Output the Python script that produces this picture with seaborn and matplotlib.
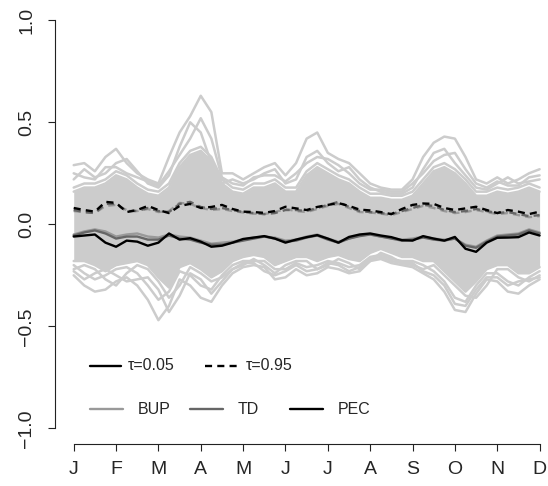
import numpy as np
import pandas as pd
import matplotlib
matplotlib.use("Agg")
import matplotlib.pyplot as plt
import seaborn as sns
from matplotlib.lines import Line2D

# month grid (quarter-month steps, J..D)
months = np.arange(1, 12.01, 0.25)
month_labels = ["J", "F", "M", "A", "M", "J", "J", "A", "S", "O", "N", "D"]

# grey bundle of individual curves
core_top = [0.16, 0.18, 0.18, 0.20, 0.24, 0.22, 0.18, 0.15, 0.14, 0.18, 0.28, 0.34, 0.36, 0.31, 0.20,
            0.16, 0.15, 0.18, 0.18, 0.20, 0.16, 0.16, 0.24, 0.28, 0.25, 0.22, 0.20, 0.16, 0.13, 0.13,
            0.12, 0.12, 0.14, 0.20, 0.26, 0.28, 0.25, 0.20, 0.14, 0.14, 0.16, 0.15, 0.16, 0.18, 0.16]
core_bot = [-0.18, -0.18, -0.20, -0.23, -0.20, -0.19, -0.18, -0.20, -0.26, -0.31, -0.21, -0.19, -0.22, -0.26, -0.23,
            -0.18, -0.16, -0.15, -0.16, -0.20, -0.18, -0.16, -0.16, -0.18, -0.16, -0.15, -0.17, -0.18, -0.14, -0.12,
            -0.14, -0.16, -0.16, -0.18, -0.18, -0.23, -0.28, -0.33, -0.28, -0.22, -0.20, -0.20, -0.24, -0.24, -0.21]
upper_a = [0.29, 0.30, 0.26, 0.33, 0.37, 0.30, 0.25, 0.22, 0.20, 0.33, 0.45, 0.53, 0.63, 0.55, 0.25,
           0.25, 0.22, 0.25, 0.28, 0.30, 0.24, 0.30, 0.42, 0.45, 0.35, 0.32, 0.30, 0.25, 0.20, 0.18,
           0.17, 0.17, 0.22, 0.33, 0.40, 0.43, 0.42, 0.33, 0.22, 0.20, 0.23, 0.20, 0.22, 0.25, 0.27]
upper_b = [0.22, 0.27, 0.23, 0.25, 0.30, 0.32, 0.26, 0.20, 0.18, 0.24, 0.38, 0.50, 0.45, 0.30, 0.20,
           0.22, 0.20, 0.22, 0.25, 0.27, 0.20, 0.22, 0.33, 0.36, 0.30, 0.26, 0.28, 0.22, 0.18, 0.16,
           0.15, 0.15, 0.18, 0.27, 0.35, 0.37, 0.30, 0.24, 0.18, 0.17, 0.20, 0.23, 0.20, 0.21, 0.22]
upper_c = [0.18, 0.20, 0.20, 0.22, 0.26, 0.24, 0.20, 0.17, 0.16, 0.20, 0.30, 0.36, 0.38, 0.33, 0.22,
           0.18, 0.17, 0.20, 0.20, 0.22, 0.18, 0.18, 0.26, 0.30, 0.27, 0.24, 0.22, 0.18, 0.15, 0.15,
           0.14, 0.14, 0.16, 0.22, 0.28, 0.30, 0.27, 0.22, 0.16, 0.16, 0.18, 0.17, 0.18, 0.20, 0.18]
upper_d = [0.25, 0.23, 0.22, 0.28, 0.28, 0.25, 0.23, 0.21, 0.19, 0.26, 0.34, 0.42, 0.52, 0.42, 0.23,
           0.20, 0.19, 0.23, 0.24, 0.24, 0.21, 0.25, 0.30, 0.33, 0.32, 0.29, 0.25, 0.20, 0.17, 0.17,
           0.16, 0.16, 0.20, 0.25, 0.31, 0.34, 0.35, 0.27, 0.20, 0.18, 0.21, 0.19, 0.19, 0.23, 0.24]
lower_a = [-0.25, -0.30, -0.33, -0.32, -0.28, -0.26, -0.30, -0.37, -0.47, -0.40, -0.27, -0.30, -0.36, -0.38, -0.30,
           -0.24, -0.21, -0.20, -0.21, -0.27, -0.26, -0.22, -0.25, -0.24, -0.21, -0.22, -0.24, -0.23, -0.18, -0.17,
           -0.19, -0.20, -0.21, -0.24, -0.27, -0.33, -0.42, -0.43, -0.34, -0.27, -0.28, -0.33, -0.34, -0.30, -0.27]
lower_b = [-0.20, -0.24, -0.27, -0.25, -0.22, -0.21, -0.24, -0.30, -0.37, -0.33, -0.23, -0.25, -0.30, -0.32, -0.25,
           -0.20, -0.18, -0.18, -0.18, -0.22, -0.22, -0.19, -0.21, -0.20, -0.18, -0.19, -0.21, -0.20, -0.16, -0.15,
           -0.17, -0.18, -0.18, -0.20, -0.23, -0.28, -0.36, -0.38, -0.30, -0.24, -0.24, -0.28, -0.30, -0.26, -0.23]
lower_c = [-0.22, -0.20, -0.22, -0.27, -0.30, -0.24, -0.20, -0.22, -0.28, -0.36, -0.30, -0.21, -0.24, -0.28, -0.26,
           -0.22, -0.20, -0.17, -0.20, -0.24, -0.20, -0.18, -0.18, -0.22, -0.20, -0.17, -0.19, -0.22, -0.18, -0.14,
           -0.16, -0.19, -0.20, -0.22, -0.20, -0.25, -0.30, -0.35, -0.36, -0.30, -0.22, -0.22, -0.26, -0.28, -0.25]
lower_d = [-0.23, -0.27, -0.24, -0.22, -0.25, -0.28, -0.27, -0.26, -0.32, -0.43, -0.35, -0.24, -0.27, -0.34, -0.28,
           -0.22, -0.19, -0.19, -0.23, -0.25, -0.23, -0.20, -0.23, -0.22, -0.19, -0.20, -0.23, -0.21, -0.17, -0.16,
           -0.18, -0.19, -0.19, -0.23, -0.25, -0.30, -0.39, -0.40, -0.32, -0.26, -0.26, -0.30, -0.28, -0.27, -0.26]

# quantile curves, tau = 0.05
bup_05 = [-0.050, -0.035, -0.025, -0.035, -0.060, -0.050, -0.045, -0.060, -0.065, -0.050, -0.060, -0.065, -0.080, -0.095, -0.090,
          -0.085, -0.075, -0.065, -0.060, -0.065, -0.080, -0.075, -0.060, -0.050, -0.070, -0.085, -0.070, -0.055, -0.050, -0.060,
          -0.068, -0.075, -0.070, -0.060, -0.070, -0.075, -0.070, -0.100, -0.110, -0.080, -0.055, -0.050, -0.045, -0.025, -0.040]
td_05 = [-0.055, -0.040, -0.030, -0.045, -0.070, -0.060, -0.060, -0.075, -0.075, -0.055, -0.070, -0.075, -0.090, -0.100, -0.100,
         -0.090, -0.080, -0.070, -0.060, -0.070, -0.085, -0.080, -0.065, -0.055, -0.075, -0.090, -0.070, -0.058, -0.050, -0.060,
         -0.070, -0.080, -0.075, -0.065, -0.075, -0.080, -0.070, -0.105, -0.115, -0.085, -0.060, -0.055, -0.050, -0.030, -0.045]
pec_05 = [-0.060, -0.055, -0.050, -0.090, -0.110, -0.080, -0.085, -0.105, -0.090, -0.045, -0.075, -0.068, -0.085, -0.110, -0.105,
          -0.090, -0.072, -0.065, -0.058, -0.070, -0.090, -0.075, -0.063, -0.053, -0.070, -0.090, -0.062, -0.050, -0.045, -0.055,
          -0.063, -0.078, -0.080, -0.058, -0.070, -0.080, -0.062, -0.120, -0.135, -0.090, -0.066, -0.065, -0.063, -0.040, -0.055]

# quantile curves, tau = 0.95
bup_95 = [0.065, 0.060, 0.055, 0.090, 0.095, 0.070, 0.065, 0.075, 0.060, 0.065, 0.105, 0.100, 0.080, 0.070, 0.075,
          0.065, 0.058, 0.052, 0.050, 0.060, 0.075, 0.065, 0.060, 0.075, 0.090, 0.100, 0.080, 0.060, 0.058, 0.052,
          0.045, 0.060, 0.075, 0.090, 0.080, 0.065, 0.055, 0.060, 0.070, 0.060, 0.050, 0.055, 0.045, 0.035, 0.040]
td_95 = [0.070, 0.060, 0.055, 0.100, 0.100, 0.065, 0.065, 0.080, 0.065, 0.060, 0.100, 0.110, 0.085, 0.075, 0.080,
         0.070, 0.060, 0.055, 0.050, 0.055, 0.070, 0.070, 0.065, 0.080, 0.095, 0.110, 0.085, 0.065, 0.060, 0.055,
         0.050, 0.065, 0.080, 0.095, 0.090, 0.070, 0.060, 0.065, 0.075, 0.065, 0.055, 0.060, 0.050, 0.040, 0.045]
pec_95 = [0.080, 0.070, 0.062, 0.110, 0.105, 0.060, 0.070, 0.090, 0.070, 0.055, 0.090, 0.100, 0.080, 0.085, 0.095,
          0.075, 0.062, 0.060, 0.056, 0.065, 0.086, 0.078, 0.070, 0.085, 0.095, 0.104, 0.090, 0.072, 0.068, 0.060,
          0.050, 0.075, 0.095, 0.102, 0.100, 0.080, 0.070, 0.078, 0.086, 0.070, 0.055, 0.070, 0.062, 0.050, 0.062]

grey = "#cccccc"
pal = {"BUP": "#999999", "TD": "#666666", "PEC": "#000000"}
dash = (0, (3, 2.2))

sns.set_style("white")
plt.rcParams["font.family"] = ["Liberation Sans", "DejaVu Sans"]

fig = plt.figure(figsize=(5.48, 4.86), dpi=100)
ax = fig.add_axes([54.7 / 548, 1 - 444.3 / 486, 1 - 54.7 / 548, 444.3 / 486])

# grey bundle
ax.fill_between(months, core_bot, core_top, color=grey, lw=0)
for curve in [upper_c, upper_d, upper_b, upper_a, core_top,
              lower_c, lower_d, lower_b, lower_a, core_bot]:
    sns.lineplot(x=months, y=curve, color=grey, lw=1.8, ax=ax)

# quantile curves
for name, q05, q95 in [("BUP", bup_05, bup_95), ("TD", td_05, td_95), ("PEC", pec_05, pec_95)]:
    sns.lineplot(x=months, y=q05, color=pal[name], lw=1.7, ax=ax)
    sns.lineplot(x=months, y=q95, color=pal[name], lw=1.7, linestyle=dash, ax=ax)

ax.set_xlim(1 - 19 / 42.36, 12 + 8.4 / 42.36)
ax.set_ylim(-220 / 204, 224.3 / 204)
ax.set_xticks(range(1, 13))
ax.set_xticklabels(month_labels)
ax.set_yticks([-1, -0.5, 0, 0.5, 1])
ax.set_yticklabels(["\u22121.0", "\u22120.5", "0.0", "0.5", "1.0"], rotation=90, va="center")
ax.tick_params(axis="both", direction="out", length=5, width=0.8, labelsize=14,
               color="#222222", bottom=True, left=True)
ax.tick_params(axis="x", pad=7)
ax.tick_params(axis="y", pad=9)
for side in ["top", "right"]:
    ax.spines[side].set_visible(False)
ax.spines["left"].set_bounds(-1, 1)
ax.spines["bottom"].set_bounds(1, 12)
for side in ["left", "bottom"]:
    ax.spines[side].set_linewidth(0.8)
    ax.spines[side].set_color("#222222")

# legend rows drawn in axes fraction
def px(xp):
    return (xp - 54.7) / (548 - 54.7)

def py(yp):
    return (444.3 - yp) / 444.3

entries = [
    (90, 121, 128, 366, "#000000", "-", "\u03c4=0.05"),
    (205, 238, 246, 366, "#000000", dash, "\u03c4=0.95"),
    (90, 123, 138, 409, pal["BUP"], "-", "BUP"),
    (190, 223, 238, 409, pal["TD"], "-", "TD"),
    (290, 323, 338, 409, pal["PEC"], "-", "PEC"),
]
for x0, x1, xt, yr, col, ls, lab in entries:
    ax.add_line(Line2D([px(x0), px(x1)], [py(yr), py(yr)], transform=ax.transAxes,
                       color=col, lw=1.7, linestyle=ls))
    ax.text(px(xt), py(yr), lab, transform=ax.transAxes, fontsize=11.5, va="center", ha="left")

fig.savefig("out.png", dpi=100)
